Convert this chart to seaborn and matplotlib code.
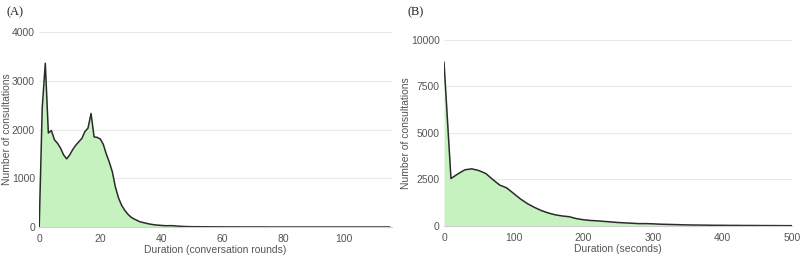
import numpy as np
import pandas as pd
import matplotlib.pyplot as plt
import seaborn as sns

# panel A: number of consultations per conversation round count
rounds = list(range(0, 116))
rounds_count = [
    0, 2450, 3360, 1930, 1980, 1790, 1720, 1620, 1480, 1400,
    1480, 1590, 1680, 1750, 1820, 1960, 2030, 2330, 1850, 1840,
    1810, 1700, 1500, 1330, 1130, 820, 600, 450, 350, 270,
    210, 170, 140, 110, 95, 80, 65, 55, 45, 40,
    35, 30, 28, 30, 28, 22, 18, 15, 12, 10,
    9, 8, 8, 7, 7, 6, 6, 5, 5, 5,
    5, 4, 4, 4, 4, 4, 3, 3, 3, 3,
    3, 3, 3, 3, 3, 2, 2, 2, 2, 2,
    2, 2, 2, 2, 2, 2, 2, 2, 2, 2,
    2, 2, 2, 2, 2, 2, 2, 2, 2, 2,
    2, 2, 2, 2, 2, 2, 2, 2, 2, 2,
    2, 2, 2, 2, 2, 2,
]

# panel B: number of consultations per duration (seconds, 10 s bins)
seconds = list(range(0, 510, 10))
seconds_count = [
    8800, 2550, 2800, 3020, 3070, 2980, 2820, 2500, 2200, 2050,
    1750, 1450, 1200, 1000, 830, 700, 600, 540, 500, 400,
    340, 300, 280, 250, 220, 190, 170, 150, 130, 130,
    120, 100, 90, 80, 70, 60, 55, 50, 45, 40,
    40, 35, 35, 30, 30, 28, 25, 25, 22, 20,
    20,
]

df_a = pd.DataFrame({'x': rounds, 'y': rounds_count})
df_b = pd.DataFrame({'x': seconds, 'y': seconds_count})

sns.set_style('white')
plt.rcParams['font.family'] = ['Liberation Sans', 'DejaVu Sans']

fill_col = '#c6f2c0'
line_col = '#2b2b2b'
grid_col = '#e9e9e9'
txt_col = '#555555'


def area_panel(ax, df, xlim, ylim, yticks, xticks, xlabel, ylab_x):
    ax.fill_between(df['x'], df['y'], color=fill_col, lw=0)
    sns.lineplot(data=df, x='x', y='y', ax=ax, color=line_col, lw=1.1)
    ax.set_xlim(*xlim)
    ax.set_ylim(*ylim)
    ax.set_yticks(yticks)
    ax.set_xticks(xticks)
    for t in yticks[1:]:
        ax.axhline(t, color=grid_col, lw=0.8, zorder=0)
    for s in ['top', 'right', 'left']:
        ax.spines[s].set_visible(False)
    ax.spines['bottom'].set_color('#d0d0d0')
    ax.spines['bottom'].set_linewidth(0.8)
    ax.tick_params(axis='y', length=0, labelsize=7.5, labelcolor=txt_col, pad=3)
    ax.tick_params(axis='x', length=3, color='#d0d0d0', labelsize=7.5,
                   labelcolor=txt_col, pad=2)
    ax.set_xlabel(xlabel, fontsize=7.5, color=txt_col, labelpad=1)
    ax.set_ylabel('Number of consultations', fontsize=7.5, color=txt_col)
    ax.yaxis.set_label_coords(ylab_x, 0.5)


fig = plt.figure(figsize=(8, 2.65), dpi=100)
ax1 = fig.add_axes([0.049, 0.143, 0.441, 0.736])
ax2 = fig.add_axes([0.555, 0.147, 0.435, 0.703])

area_panel(ax1, df_a, (0, 115.7), (0, 4000), [0, 1000, 2000, 3000, 4000],
           [0, 20, 40, 60, 80, 100], 'Duration (conversation rounds)', -0.076)
area_panel(ax2, df_b, (0, 500), (0, 10000), [0, 2500, 5000, 7500, 10000],
           [0, 100, 200, 300, 400, 500], 'Duration (seconds)', -0.095)

fig.text(0.008, 0.955, '(A)', fontsize=9, family=['Liberation Serif'],
         color='#222222', va='center')
fig.text(0.51, 0.955, '(B)', fontsize=9, family=['Liberation Serif'],
         color='#222222', va='center')

fig.savefig('out.png', dpi=100)
